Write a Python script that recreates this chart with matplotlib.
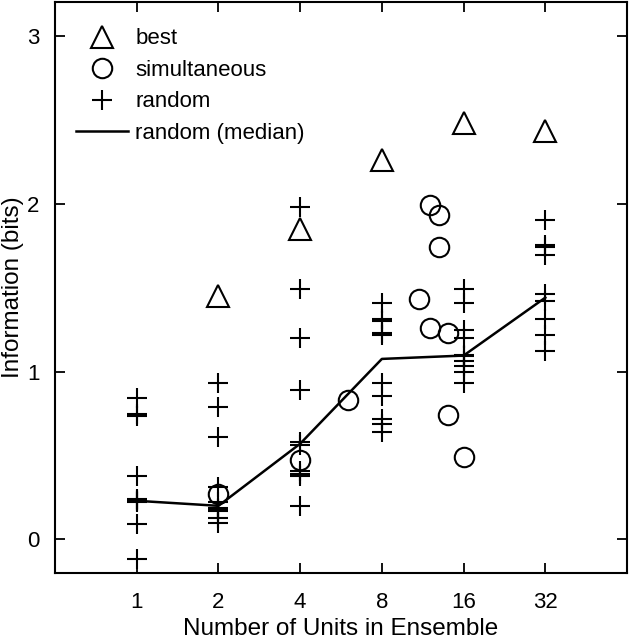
import matplotlib
matplotlib.use("Agg")
import matplotlib.pyplot as plt
from matplotlib.lines import Line2D
from matplotlib.ticker import FixedLocator, NullLocator, FixedFormatter

plt.rcParams['font.family'] = ['Liberation Sans', 'DejaVu Sans']

# best
best_x = [2, 4, 8, 16, 32]
best_y = [1.45, 1.85, 2.26, 2.48, 2.43]

# simultaneous
sim_x = [2, 4, 6, 11, 12, 13, 13, 12, 14, 14, 16]
sim_y = [0.27, 0.47, 0.83, 1.43, 1.99, 1.93, 1.74, 1.26, 1.23, 0.74, 0.49]

# random (crosses)
rand_x = ([1] * 10 + [2] * 10 + [4] * 10 + [8] * 10 + [16] * 10 + [32] * 9)
rand_y = [0.84, 0.745, 0.735, 0.38, 0.24, 0.235, 0.23, 0.22, 0.093, -0.115,
          0.93, 0.79, 0.61, 0.31, 0.22, 0.19, 0.18, 0.17, 0.125, 0.095,
          1.98, 1.49, 1.20, 0.887, 0.58, 0.56, 0.41, 0.39, 0.38, 0.20,
          1.41, 1.31, 1.30, 1.23, 1.22, 0.93, 0.857, 0.718, 0.69, 0.64,
          1.49, 1.41, 1.245, 1.20, 1.10, 1.09, 1.06, 1.03, 1.00, 0.93,
          1.90, 1.755, 1.74, 1.695, 1.46, 1.42, 1.31, 1.22, 1.12]

# random (median)
med_x = [1, 2, 4, 8, 16, 32]
med_y = [0.23, 0.20, 0.57, 1.075, 1.095, 1.44]

xticks = [1, 2, 4, 8, 16, 32]
xtick_labels = ['1', '2', '4', '8', '16', '32']
yticks = [0, 1, 2, 3]

fig = plt.figure(figsize=(6.3, 6.4), dpi=100)
ax = fig.add_axes([0.0873, 0.1047, 0.908, 0.892])

ax.plot(med_x, med_y, color='black', lw=1.8, zorder=2)
ax.plot(rand_x, rand_y, linestyle='none', marker='+', ms=14, mew=1.5,
        color='black', zorder=3)
ax.plot(sim_x, sim_y, linestyle='none', marker='o', ms=14, mew=1.5,
        mfc='none', mec='black', zorder=3)
ax.plot(best_x, best_y, linestyle='none', marker='^', ms=16, mew=1.5,
        mfc='none', mec='black', zorder=3)

ax.set_xscale('log', base=2)
ax.set_xlim(0.5, 64)
ax.set_ylim(-0.2, 3.2)
ax.xaxis.set_major_locator(FixedLocator(xticks))
ax.xaxis.set_major_formatter(FixedFormatter(xtick_labels))
ax.xaxis.set_minor_locator(NullLocator())
ax.set_yticks(yticks)
ax.tick_params(direction='in', length=7, width=1.3, top=True, right=True,
               labelsize=16)
ax.tick_params(axis='x', pad=14)
ax.tick_params(axis='y', pad=11)
for s in ax.spines.values():
    s.set_linewidth(1.5)

ax.set_xlabel('Number of Units in Ensemble', fontsize=17.5, labelpad=3)
ax.set_ylabel('Information (bits)', fontsize=17.5, labelpad=2)

handles = [
    Line2D([], [], linestyle='none', marker='^', ms=16, mew=1.5, mfc='none', mec='black'),
    Line2D([], [], linestyle='none', marker='o', ms=14, mew=1.5, mfc='none', mec='black'),
    Line2D([], [], linestyle='none', marker='+', ms=14, mew=1.5, color='black'),
    Line2D([], [], color='black', lw=1.8),
]
labels = ['best', 'simultaneous', 'random', 'random (median)']
ax.legend(handles, labels, loc='upper left', frameon=False, fontsize=16,
          handlelength=2.35, handletextpad=0.3, labelspacing=0.47,
          borderaxespad=0.4, bbox_to_anchor=(0.006, 0.985))

fig.savefig('out.png', dpi=100)
